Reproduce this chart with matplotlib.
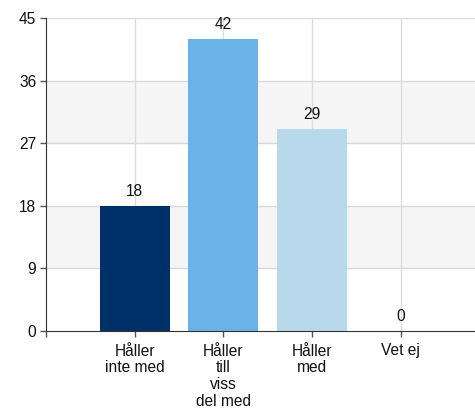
import matplotlib
matplotlib.use("Agg")
import matplotlib.pyplot as plt

categories = ["Håller\ninte med", "Håller\ntill\nviss\ndel med", "Håller\nmed", "Vet ej"]
values = [18, 42, 29, 0]
colors = ["#003068", "#6ab3e8", "#b8d8eb"]
y_ticks = [0, 9, 18, 27, 36, 45]

plt.rcParams["font.family"] = ["Liberation Sans", "DejaVu Sans"]
plt.rcParams["font.size"] = 11.2

fig = plt.figure(figsize=(4.75, 4.12), dpi=100)
ax = fig.add_axes([46 / 475, (412 - 331) / 412, 1 - 46 / 475, (331 - 18) / 412])

xlim = (-1, 3.84)
ax.set_xlim(*xlim)
ax.set_ylim(0, 45)

# alternating horizontal bands
for lo in (9, 27):
    ax.axhspan(lo, lo + 9, color="#f5f5f5", zorder=0, lw=0)

for y in y_ticks[1:]:
    ax.axhline(y, color="#d8d8d8", lw=1, zorder=1)
for x in range(len(categories)):
    ax.axvline(x, color="#dcdcdc", lw=1, zorder=1)

xs = list(range(len(categories)))
bars = ax.bar(xs[:3], values[:3], width=0.79, color=colors, zorder=2)
for x, v in zip(xs, values):
    ax.annotate(str(v), (x, v), xytext=(0, 5), textcoords="offset points",
                ha="center", va="bottom", color="#111111", zorder=3)

ax.set_yticks(y_ticks)
ax.set_xticks([-1] + xs)
ax.set_xticklabels([""] + categories, linespacing=1.15)

for side in ("top", "right"):
    ax.spines[side].set_visible(False)
ax.spines["left"].set_color("#333333")
ax.spines["bottom"].set_color("#333333")
ax.tick_params(axis="both", colors="#555555", labelcolor="#111111", length=4, width=1)
ax.tick_params(axis="x", pad=5)
ax.tick_params(axis="y", pad=3)

fig.savefig("out.png", dpi=100)
